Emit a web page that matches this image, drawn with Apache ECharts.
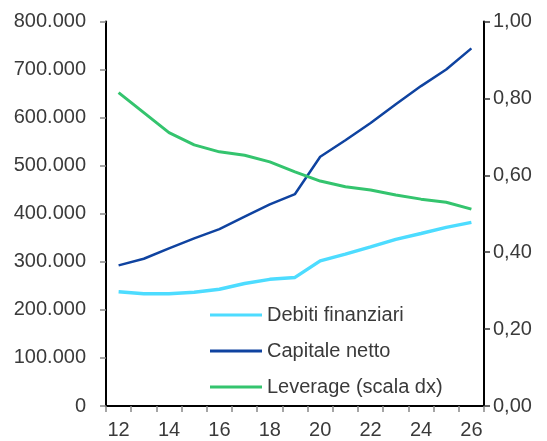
<!DOCTYPE html>
<html>
<head>
<meta charset="utf-8">
<script src="https://cdn.jsdelivr.net/npm/echarts@6/dist/echarts.min.js"></script>
<style>
  html, body { margin: 0; padding: 0; background: #fff; }
  #chart { width: 547px; height: 441px; }
</style>
</head>
<body>
<div id="chart"></div>
<script>
// Years (two-digit labels)
const years = ['12','13','14','15','16','17','18','19','20','21','22','23','24','25','26'];
// Financial debt (left scale)
const debitiFinanziari = [237800, 233600, 233600, 236500, 243000, 255000, 263500, 267600, 302000, 316000, 331000, 346700, 359000, 371600, 382000];
// Net equity (left scale)
const capitaleNetto = [292600, 306400, 328000, 348800, 368000, 393800, 419500, 441000, 518600, 553000, 589000, 628000, 665600, 700000, 744000];
// Leverage ratio (right scale)
const leverage = [0.815, 0.763, 0.711, 0.679, 0.661, 0.652, 0.635, 0.609, 0.585, 0.570, 0.562, 0.549, 0.538, 0.530, 0.512];

const FONT = 'Liberation Sans, Arial, sans-serif';
const TXT = '#3a3a3a';

function fmtThousands(v) {
  return String(Math.round(v)).replace(/\B(?=(\d{3})+(?!\d))/g, '.');
}

const chart = echarts.init(document.getElementById('chart'), null, { renderer: 'canvas' });
chart.setOption({
  animation: false,
  backgroundColor: '#ffffff',
  grid: { left: 106, right: 63, top: 21.5, bottom: 35, containLabel: false },
  legend: {
    orient: 'vertical',
    left: 205,
    top: 300,
    icon: 'rect',
    itemWidth: 52,
    itemHeight: 3,
    itemGap: 16,
    textStyle: { fontFamily: FONT, fontSize: 20, color: TXT, lineHeight: 20, padding: [0, 0, 0, 0] },
    data: ['Debiti finanziari', 'Capitale netto', 'Leverage (scala dx)']
  },
  xAxis: {
    type: 'category',
    data: years,
    boundaryGap: true,
    axisLine: { lineStyle: { color: '#000', width: 2 } },
    axisTick: { show: true, interval: 0, length: 6, lineStyle: { color: '#888', width: 1.5 } },
    axisLabel: { interval: 1, margin: 14, fontFamily: FONT, fontSize: 20, color: TXT },
    splitLine: { show: false }
  },
  yAxis: [
    {
      type: 'value',
      min: 0, max: 800000, interval: 100000,
      axisLine: { show: true, lineStyle: { color: '#000', width: 2 } },
      axisTick: { show: true, length: 6, lineStyle: { color: '#888', width: 1.5 } },
      axisLabel: { margin: 20, fontFamily: FONT, fontSize: 20, color: TXT, formatter: fmtThousands },
      splitLine: { show: false }
    },
    {
      type: 'value',
      min: 0, max: 1, interval: 0.2,
      position: 'right',
      axisLine: { show: true, lineStyle: { color: '#000', width: 2 } },
      axisTick: { show: true, length: 6, lineStyle: { color: '#333', width: 1.5 } },
      axisLabel: { margin: 9, fontFamily: FONT, fontSize: 20, color: TXT,
        formatter: v => v.toFixed(2).replace('.', ',') },
      splitLine: { show: false }
    }
  ],
  series: [
    {
      name: 'Debiti finanziari', type: 'line', yAxisIndex: 0,
      data: debitiFinanziari, showSymbol: false, symbol: 'none',
      lineStyle: { color: '#4ddcff', width: 3.5 }, itemStyle: { color: '#4ddcff' }
    },
    {
      name: 'Capitale netto', type: 'line', yAxisIndex: 0,
      data: capitaleNetto, showSymbol: false, symbol: 'none',
      lineStyle: { color: '#0f43a0', width: 2.5 }, itemStyle: { color: '#0f43a0' }
    },
    {
      name: 'Leverage (scala dx)', type: 'line', yAxisIndex: 1,
      data: leverage, showSymbol: false, symbol: 'none',
      lineStyle: { color: '#34c46e', width: 3 }, itemStyle: { color: '#34c46e' }
    }
  ]
});
</script>
</body>
</html>
